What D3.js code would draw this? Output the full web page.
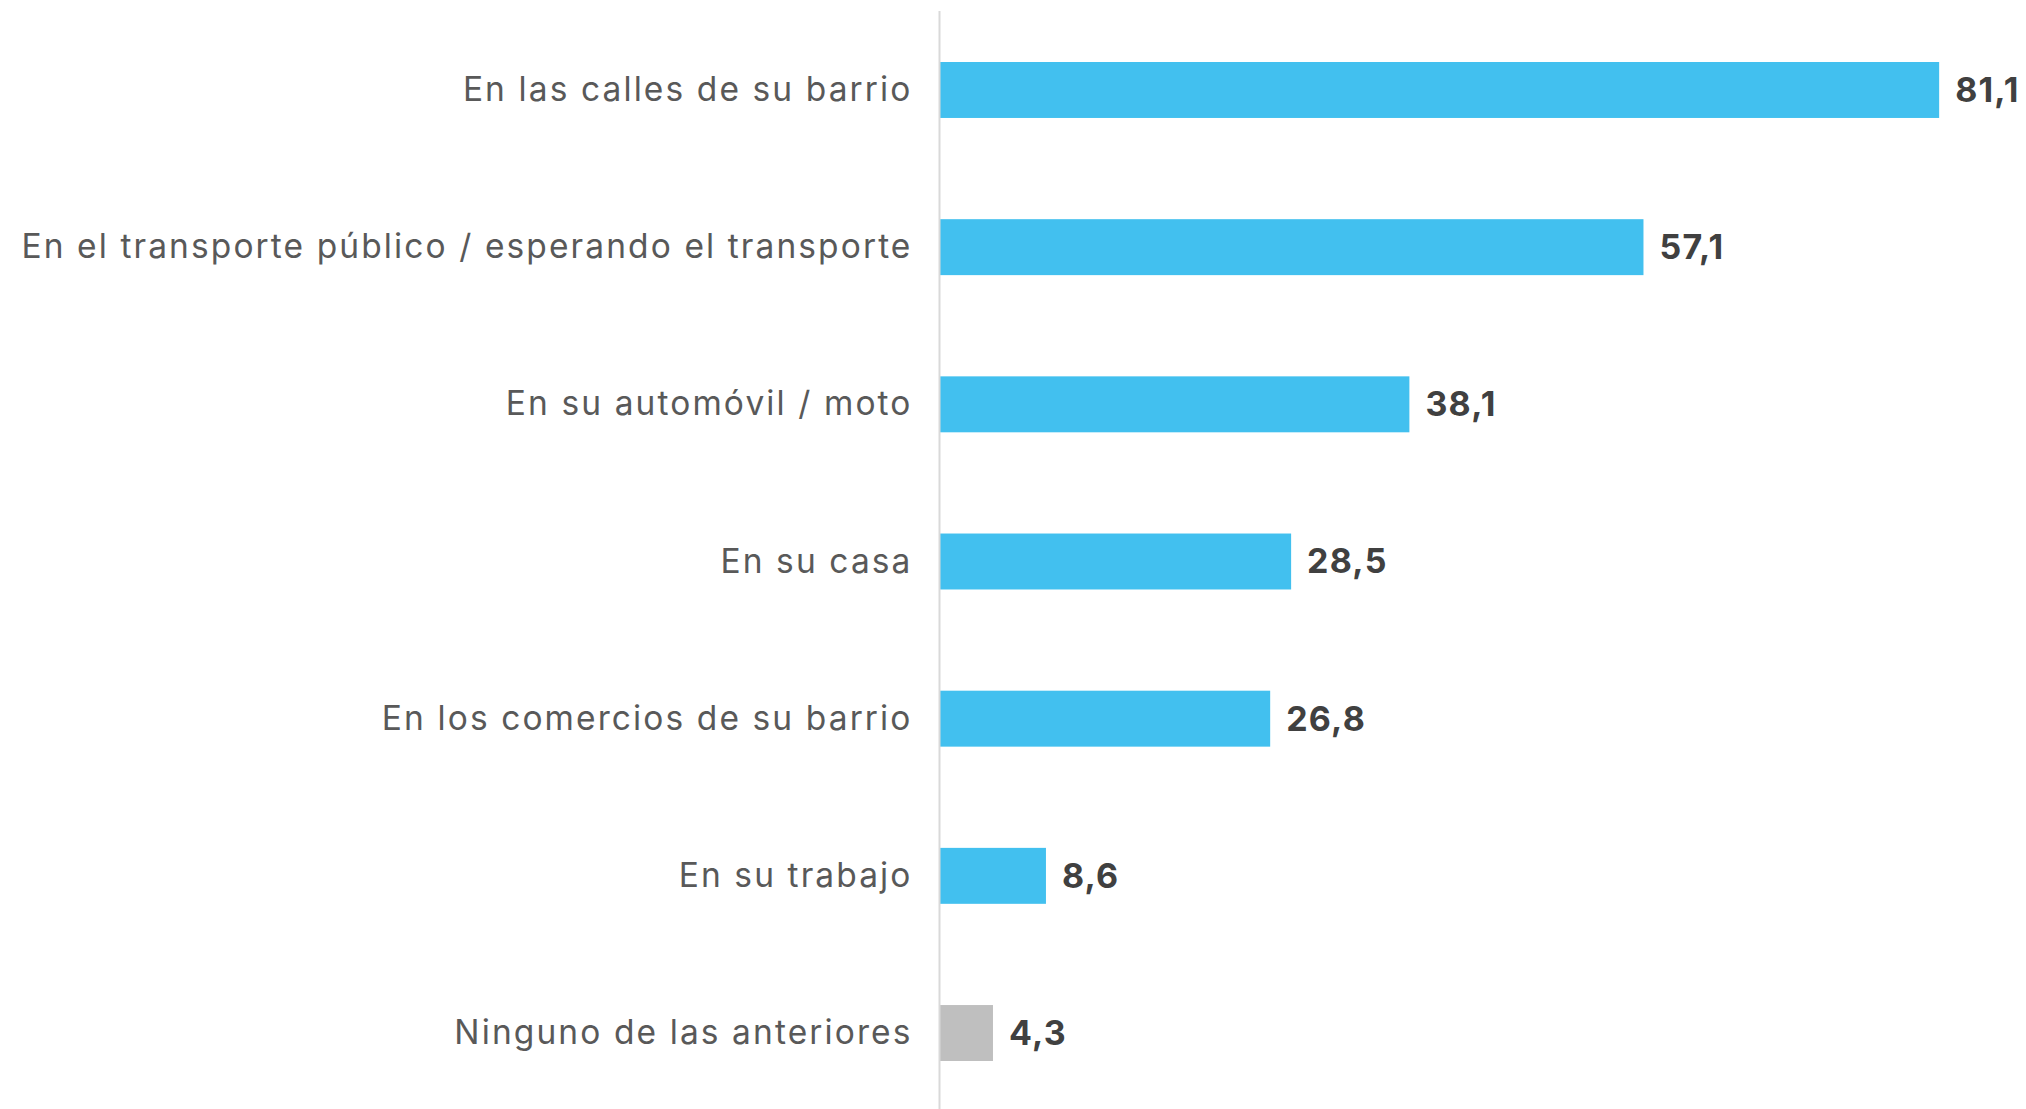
<!DOCTYPE html>
<html>
<head>
<meta charset="utf-8">
<script src="https://cdn.jsdelivr.net/npm/d3@7"></script>
<style>
  body { margin: 0; background: #fff; }
  svg { display: block; }
</style>
</head>
<body>
<div id="chart"></div>
<script>
var w = 2026;
var h = 1109;

// categories, values
var categories = [
  "En las calles de su barrio",
  "En el transporte público / esperando el transporte",
  "En su automóvil / moto",
  "En su casa",
  "En los comercios de su barrio",
  "En su trabajo",
  "Ninguno de las anteriores"
];
var values = [81.1, 57.1, 38.1, 28.5, 26.8, 8.6, 4.3];
var labels = ["81,1", "57,1", "38,1", "28,5", "26,8", "8,6", "4,3"];

var data = categories.map(function(c, i) {
  return { cat: c, value: values[i], label: labels[i], none: i == categories.length - 1 };
});

var svg = d3.select("#chart").append("svg")
            .attr("width", w)
            .attr("height", h);

var x = d3.scaleLinear().domain([0, 100]).range([940, 2172]);
var y = d3.scaleBand()
          .domain(categories)
          .range([11.4, 1111.6])
          .paddingInner(0.644)
          .paddingOuter(0.322);

svg.selectAll("rect")
   .data(data)
   .enter()
   .append("rect")
   .attr("x", x(0))
   .attr("y", function(d) { return y(d.cat); })
   .attr("width", function(d) { return x(d.value) - x(0); })
   .attr("height", y.bandwidth())
   .attr("fill", function(d) { return d.none ? "#bfbfbf" : "#42c0ef"; });

// vertical axis line
svg.append("line")
   .attr("x1", 939.5).attr("x2", 939.5)
   .attr("y1", 11).attr("y2", h)
   .attr("stroke", "#d9d9d9")
   .attr("stroke-width", 2);

svg.selectAll("text.cat")
   .data(data)
   .enter()
   .append("text")
   .attr("class", "cat")
   .attr("x", 912.5)
   .attr("y", function(d) { return y(d.cat) + y.bandwidth() / 2; })
   .attr("dy", "0.33em")
   .attr("text-anchor", "end")
   .style("font-family", "Inter, 'Open Sans', sans-serif")
   .style("font-size", "33.5px")
   .style("letter-spacing", "2.1px")
   .style("fill", "#595959")
   .text(function(d) { return d.cat; });

svg.selectAll("text.val")
   .data(data)
   .enter()
   .append("text")
   .attr("class", "val")
   .attr("x", function(d) { return x(d.value) + 16; })
   .attr("y", function(d) { return y(d.cat) + y.bandwidth() / 2; })
   .attr("dy", "0.35em")
   .style("font-family", "Inter, 'Open Sans', sans-serif")
   .style("font-weight", "bold")
   .style("font-size", "34px")
   .style("letter-spacing", "1.2px")
   .style("fill", "#404040")
   .text(function(d) { return d.label; });
</script>
</body>
</html>
